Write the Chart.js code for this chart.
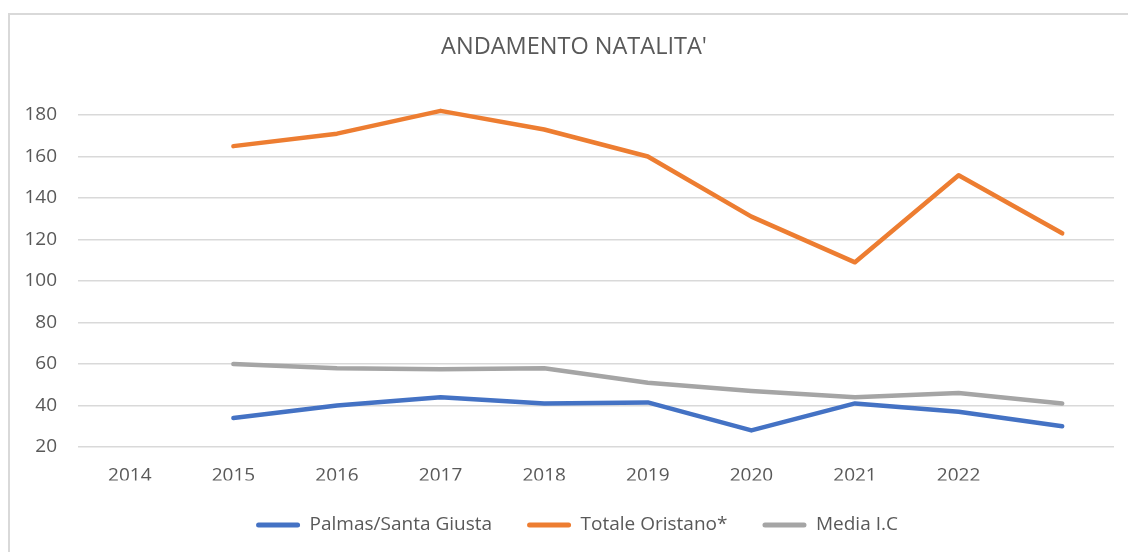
<!DOCTYPE html>
<html>
<head>
<meta charset="utf-8">
<script src="https://cdn.jsdelivr.net/npm/chart.js@4.4.1/dist/chart.umd.min.js"></script>
<style>
  html, body { margin: 0; padding: 0; background: #fff; }
  #frame {
    position: absolute; left: 8px; top: 13px; width: 1140px; height: 560px;
    border-top: 2px solid #d9d9d9; border-left: 2px solid #d9d9d9;
  }
  #wrap { position: absolute; left: 0; top: 0; width: 1128px; height: 552px; }
</style>
</head>
<body>
<div id="frame"></div>
<div id="wrap"><canvas id="chart"></canvas></div>
<script>
const years = ["2014", "2015", "2016", "2017", "2018", "2019", "2020", "2021", "2022", ""];
const palmas = [null, 34, 40, 44, 41, 41.5, 28, 41, 37, 30];
const oristano = [null, 165, 171, 182, 173, 160, 131, 109, 151, 123];
const mediaIC = [null, 60, 58, 57.5, 58, 51, 47, 44, 46, 41];

const textColor = "#595959";
const font = "'Open Sans', sans-serif";

function line(label, data, color) {
  return {
    label,
    data,
    borderColor: color,
    backgroundColor: color,
    borderWidth: 4.5,
    pointRadius: 0,
    tension: 0,
    borderCapStyle: "round",
    borderJoinStyle: "round",
    clip: false
  };
}

// title and legend sit a bit right of centre in the excel original
const nudge = {
  id: "nudge",
  afterLayout(chart) {
    chart.legend.left += 20;
    chart.legend.right += 20;
    chart.titleBlock.left += 17;
    chart.titleBlock.right += 17;
  }
};

new Chart(document.getElementById("chart"), {
  type: "line",
  data: {
    labels: years,
    datasets: [
      line("Palmas/Santa Giusta", palmas, "#4472C4"),
      line("Totale Oristano*", oristano, "#ED7D31"),
      line("Media I.C", mediaIC, "#A5A5A5")
    ]
  },
  plugins: [nudge],
  options: {
    responsive: true,
    maintainAspectRatio: false,
    animation: false,
    layout: { padding: { left: 0, right: 14, top: 0, bottom: 7.5 } },
    plugins: {
      title: {
        display: true,
        text: "ANDAMENTO NATALITA'",
        color: textColor,
        font: { family: font, size: 23.5, weight: "normal" },
        padding: { top: 32.9, bottom: 53.9 }
      },
      legend: {
        position: "bottom",
        labels: {
          color: textColor,
          font: { family: font, size: 19 },
          boxWidth: 44,
          boxHeight: 5,
          padding: 35,
          generateLabels(chart) {
            return Chart.defaults.plugins.legend.labels.generateLabels(chart).map(item => {
              item.lineWidth = 0;
              item.fillStyle = item.strokeStyle;
              item.borderRadius = 2.5;
              return item;
            });
          }
        }
      },
      tooltip: { enabled: false }
    },
    scales: {
      x: {
        offset: true,
        grid: { display: false, drawTicks: false },
        border: { display: false },
        ticks: {
          color: textColor,
          font: { family: font, size: 19 },
          padding: 17.5,
          autoSkip: false,
          maxRotation: 0
        },
        afterFit(scale) { scale.height = 33.5; }
      },
      y: {
        min: 20,
        max: 180,
        grid: { color: "#d9d9d9", lineWidth: 1.5, drawTicks: false },
        border: { display: false },
        ticks: {
          stepSize: 20,
          color: textColor,
          font: { family: font, size: 19 },
          padding: 21
        },
        afterFit(scale) { scale.width = 78; }
      }
    }
  }
});
</script>
</body>
</html>
